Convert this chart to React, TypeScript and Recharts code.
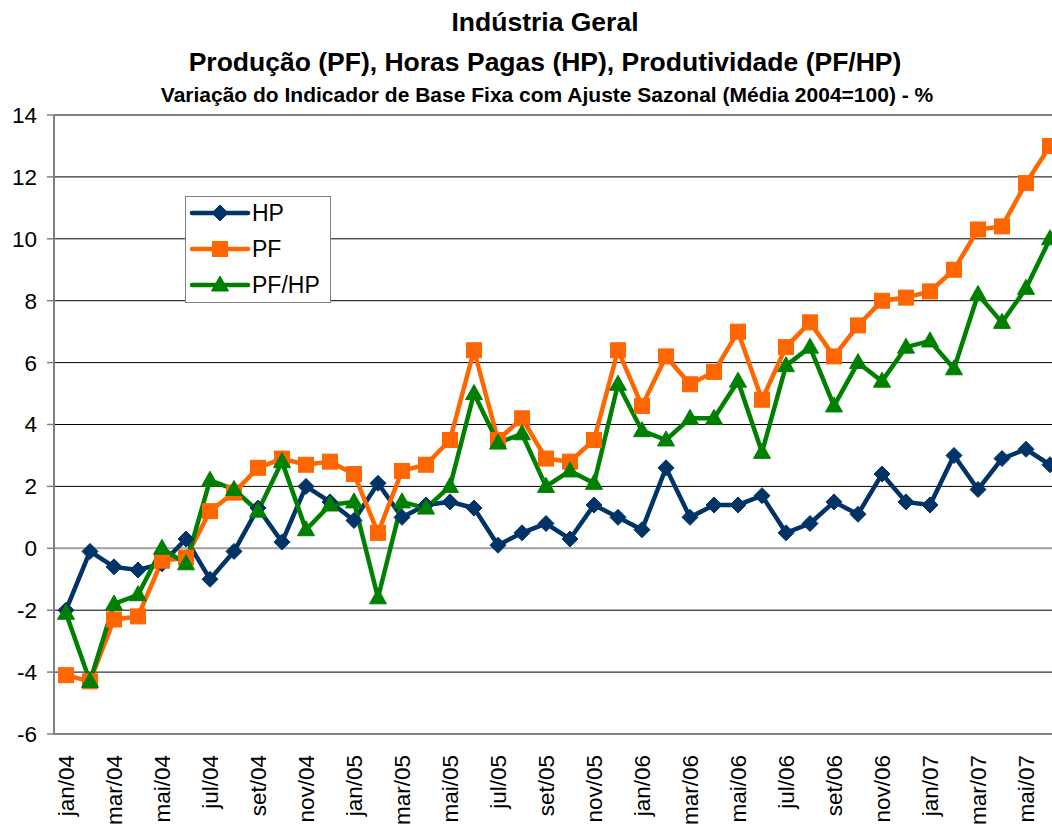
import { CartesianGrid, Legend, Line, LineChart, ReferenceLine, XAxis, YAxis } from "recharts";

const MONTHS = [
  "jan/04", "fev/04", "mar/04", "abr/04", "mai/04", "jun/04", "jul/04", "ago/04", "set/04", "out/04", "nov/04", "dez/04",
  "jan/05", "fev/05", "mar/05", "abr/05", "mai/05", "jun/05", "jul/05", "ago/05", "set/05", "out/05", "nov/05", "dez/05",
  "jan/06", "fev/06", "mar/06", "abr/06", "mai/06", "jun/06", "jul/06", "ago/06", "set/06", "out/06", "nov/06", "dez/06",
  "jan/07", "fev/07", "mar/07", "abr/07", "mai/07", "jun/07",
];

const HP = [
  -2.0, -0.1, -0.6, -0.7, -0.5, 0.3, -1.0, -0.1, 1.3, 0.2, 2.0, 1.5,
  0.9, 2.1, 1.0, 1.4, 1.5, 1.3, 0.1, 0.5, 0.8, 0.3, 1.4, 1.0,
  0.6, 2.6, 1.0, 1.4, 1.4, 1.7, 0.5, 0.8, 1.5, 1.1, 2.4, 1.5,
  1.4, 3.0, 1.9, 2.9, 3.2, 2.7,
];

const PF = [
  -4.1, -4.3, -2.3, -2.2, -0.4, -0.3, 1.2, 1.8, 2.6, 2.9, 2.7, 2.8,
  2.4, 0.5, 2.5, 2.7, 3.5, 6.4, 3.5, 4.2, 2.9, 2.8, 3.5, 6.4,
  4.6, 6.2, 5.3, 5.7, 7.0, 4.8, 6.5, 7.3, 6.2, 7.2, 8.0, 8.1,
  8.3, 9.0, 10.3, 10.4, 11.8, 13.0,
];

const PF_HP = [
  -2.1, -4.3, -1.8, -1.5, 0.0, -0.5, 2.2, 1.9, 1.2, 2.8, 0.6, 1.4,
  1.5, -1.6, 1.5, 1.3, 2.0, 5.0, 3.4, 3.7, 2.0, 2.5, 2.1, 5.3,
  3.8, 3.5, 4.2, 4.2, 5.4, 3.1, 5.9, 6.5, 4.6, 6.0, 5.4, 6.5,
  6.7, 5.8, 8.2, 7.3, 8.4, 10.0,
];

const Y_TICKS = [-6, -4, -2, 0, 2, 4, 6, 8, 10, 12, 14];

const FONT = '"Liberation Sans", Arial, Helvetica, sans-serif';

const data = MONTHS.map((m, i) => ({ month: m, hp: HP[i], pf: PF[i], pfhp: PF_HP[i] }));

type Shape = "diamond" | "square" | "triangle";

function Marker({ cx, cy, shape, color }: { cx: number; cy: number; shape: Shape; color: string }) {
  if (cx == null || cy == null) return null;
  if (shape === "diamond") {
    const r = 8;
    return <polygon points={`${cx},${cy - r} ${cx + r},${cy} ${cx},${cy + r} ${cx - r},${cy}`} fill={color} stroke={color} />;
  }
  if (shape === "square") {
    return <rect x={cx - 7.5} y={cy - 7.5} width={15} height={15} fill={color} stroke={color} />;
  }
  return <polygon points={`${cx},${cy - 9} ${cx + 8.5},${cy + 6} ${cx - 8.5},${cy + 6}`} fill={color} stroke={color} />;
}

const SERIES: { key: string; name: string; color: string; shape: Shape }[] = [
  { key: "hp", name: "HP", color: "#003366", shape: "diamond" },
  { key: "pf", name: "PF", color: "#FF6600", shape: "square" },
  { key: "pfhp", name: "PF/HP", color: "#008000", shape: "triangle" },
];

function MonthTick({ x, y, payload }: any) {
  return (
    <text
      x={x}
      y={y}
      transform={`rotate(-90, ${x}, ${y})`}
      textAnchor="end"
      dy="0.36em"
      fontSize={22.5}
      fontFamily={FONT}
      fill="#000"
    >
      {payload.value}
    </text>
  );
}

function LegendBox() {
  return (
    <svg width={146} height={107} style={{ display: "block" }}>
      <rect x={0.5} y={0.5} width={145} height={106} fill="#fff" stroke="#808080" />
      {SERIES.map((s, i) => {
        const cy = 17 + i * 36;
        return (
          <g key={s.key}>
            <line x1={7} x2={63} y1={cy} y2={cy} stroke={s.color} strokeWidth={4.5} strokeLinecap="round" />
            <Marker cx={35} cy={cy} shape={s.shape} color={s.color} />
            <text x={67} y={cy} dy="0.36em" fontSize={23} fontFamily={FONT} fill="#000">
              {s.name}
            </text>
          </g>
        );
      })}
    </svg>
  );
}

export default function App() {
  return (
    <div style={{ position: "absolute", left: 0, top: 0, width: 1052, height: 825, overflow: "hidden", background: "#fff" }}>
      <div style={{ position: "absolute", left: 0, top: 7, width: 1090, textAlign: "center", fontFamily: FONT, fontWeight: "bold", fontSize: 26.5, lineHeight: "30px" }}>
        Indústria Geral
      </div>
      <div style={{ position: "absolute", left: 0, top: 47, width: 1090, textAlign: "center", fontFamily: FONT, fontWeight: "bold", fontSize: 26.5, lineHeight: "30px" }}>
        Produção (PF), Horas Pagas (HP), Produtividade (PF/HP)
      </div>
      <div style={{ position: "absolute", left: 0, top: 83, width: 1094, textAlign: "center", fontFamily: FONT, fontWeight: "bold", fontSize: 21, lineHeight: "24px" }}>
        Variação do Indicador de Base Fixa com Ajuste Sazonal (Média 2004=100) - %
      </div>
      <LineChart width={1075} height={825} data={data} margin={{ top: 115, right: 13, bottom: 0, left: 0 }}>
        <CartesianGrid horizontal vertical={false} stroke="#000" strokeWidth={1} />
        <ReferenceLine y={0} stroke="#a6a6a6" strokeWidth={2} />
        <ReferenceLine y={14} stroke="#808080" strokeWidth={2} />
        <XAxis
          dataKey="month"
          interval={1}
          padding={{ left: 12, right: 12 }}
          height={91}
          tickLine={false}
          tickSize={0}
          tickMargin={21}
          axisLine={{ stroke: "#808080", strokeWidth: 2 }}
          tick={<MonthTick />}
        />
        <YAxis
          type="number"
          domain={[-6, 14]}
          ticks={Y_TICKS}
          interval={0}
          width={54}
          tickSize={7}
          tickMargin={10}
          axisLine={{ stroke: "#808080", strokeWidth: 2 }}
          tickLine={{ stroke: "#808080", strokeWidth: 1.5 }}
          tick={{ fontSize: 22.5, fontFamily: FONT, fill: "#000" }}
        />
        <Legend
          layout="vertical"
          align="center"
          verticalAlign="middle"
          content={() => <LegendBox />}
          wrapperStyle={{ left: 185, top: 196, width: 146, height: 107 }}
        />
        {SERIES.map((s) => (
          <Line
            key={s.key}
            type="linear"
            dataKey={s.key}
            name={s.name}
            stroke={s.color}
            strokeWidth={4.5}
            isAnimationActive={false}
            dot={(p: any) => <Marker key={`${s.key}-${p.index}`} cx={p.cx} cy={p.cy} shape={s.shape} color={s.color} />}
            activeDot={false}
          />
        ))}
      </LineChart>
    </div>
  );
}
